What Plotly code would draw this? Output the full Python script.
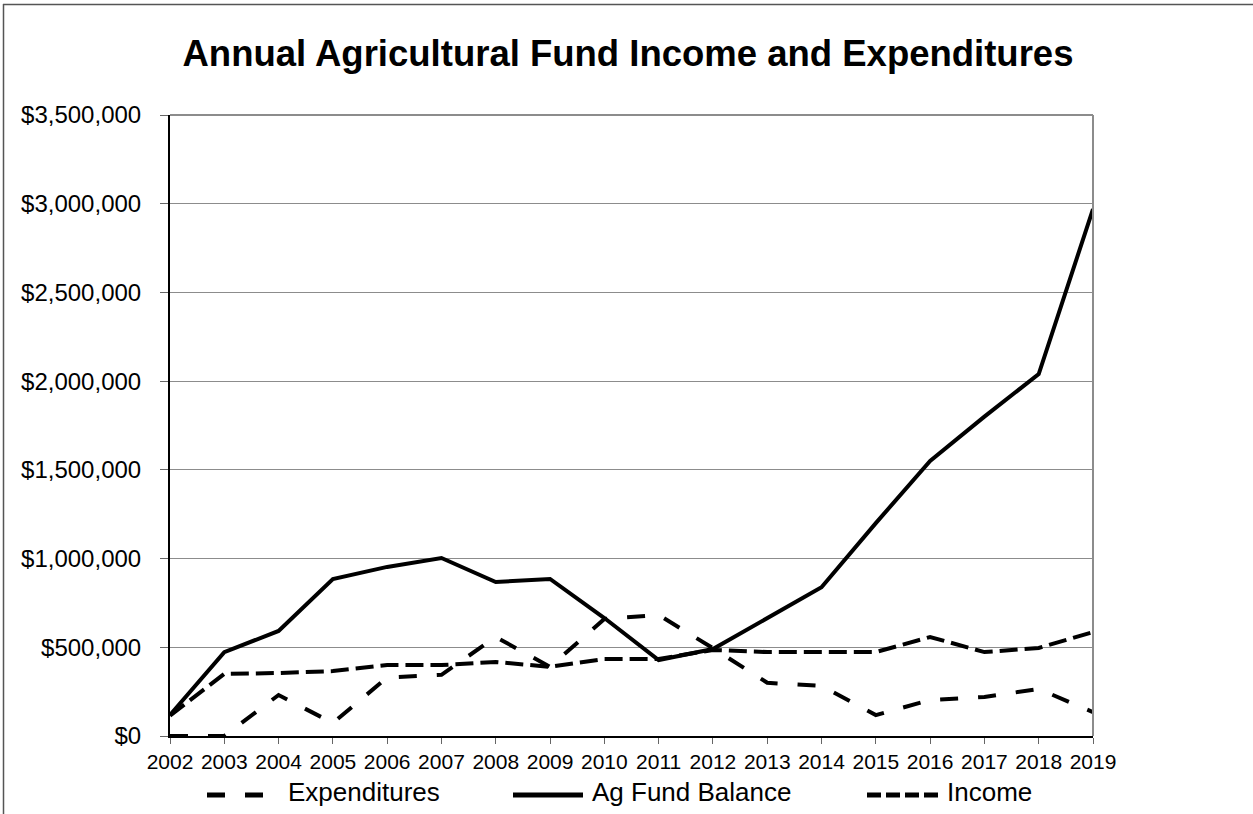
import plotly.graph_objects as go

years = list(range(2002, 2020))
expenditures = [0, 0, 231000, 73000, 330000, 345000, 558000, 390000, 660000, 682000,
                495000, 300000, 282000, 118000, 203000, 220000, 265000, 135000]
ag_fund_balance = [118000, 473000, 592000, 885000, 953000, 1003000, 868000, 885000, 665000, 428000,
                   490000, 662000, 838000, 1200000, 1550000, 1800000, 2040000, 2970000]
income = [115000, 350000, 355000, 366000, 400000, 400000, 417000, 390000, 434000, 434000,
          485000, 473000, 473000, 473000, 558000, 473000, 496000, 586000]
y_ticks = [0, 500000, 1000000, 1500000, 2000000, 2500000, 3000000, 3500000]
y_tick_labels = ["$0", "$500,000", "$1,000,000", "$1,500,000", "$2,000,000",
                 "$2,500,000", "$3,000,000", "$3,500,000"]
series_names = ["Expenditures", "Ag Fund Balance", "Income"]
title_text = "Annual Agricultural Fund Income and Expenditures"

FONT = "Liberation Sans, Arial, sans-serif"
L, R, T, B = 170, 160, 115, 78
W, H = 1253, 814
pw, ph = W - L - R, H - T - B

EXP_DASH = "18px,20px"
INC_DASH = "18px,7px"

fig = go.Figure()
fig.add_trace(go.Scatter(x=years, y=expenditures, mode="lines", name=series_names[0],
                         line=dict(color="black", width=4, dash=EXP_DASH), showlegend=False))
fig.add_trace(go.Scatter(x=years, y=ag_fund_balance, mode="lines", name=series_names[1],
                         line=dict(color="black", width=4), showlegend=False))
fig.add_trace(go.Scatter(x=years, y=income, mode="lines", name=series_names[2],
                         line=dict(color="black", width=4, dash=INC_DASH), showlegend=False))


def px_x(p):
    return (p - L) / pw


def px_y(p):
    return (H - B - p) / ph


shapes = [
    # plot area right/top border (grey)
    dict(type="line", xref="x domain", yref="y domain", x0=1, x1=1, y0=0, y1=1,
         line=dict(color="#8c8c8c", width=2)),
    dict(type="line", xref="x domain", yref="y domain", x0=0, x1=1, y0=1, y1=1,
         line=dict(color="#8c8c8c", width=2)),
    # outer figure frame
    dict(type="line", xref="paper", yref="paper", x0=px_x(3.5), x1=px_x(3.5), y0=px_y(4), y1=px_y(830),
         line=dict(color="#555555", width=1.5)),
    dict(type="line", xref="paper", yref="paper", x0=px_x(3), x1=px_x(1260), y0=px_y(4.5), y1=px_y(4.5),
         line=dict(color="#555555", width=1.5)),
]

# manual legend (symbol lines + labels)
legend_items = [
    (series_names[0], 207, 277, "18px,20px", 286),
    (series_names[1], 513, 583, "solid", 590),
    (series_names[2], 867, 938, "14px,5px", 945),
]
annotations = []
for name, x0, x1, dash, tx in legend_items:
    shapes.append(dict(type="line", xref="paper", yref="paper",
                       x0=px_x(x0), x1=px_x(x1), y0=px_y(795), y1=px_y(795),
                       line=dict(color="black", width=5, dash=dash)))
    annotations.append(dict(text=name, xref="paper", yref="paper", x=px_x(tx), y=px_y(792),
                            xanchor="left", yanchor="middle", showarrow=False,
                            font=dict(size=26, family=FONT, color="black")))

fig.update_layout(
    width=W, height=H,
    margin=dict(l=L, r=R, t=T, b=B, autoexpand=False),
    paper_bgcolor="white", plot_bgcolor="white",
    font=dict(family=FONT, color="black", size=21),
    title=dict(text="<b>" + title_text + "</b>", xref="container", x=628 / W, xanchor="center",
               yref="container", y=1 - 53 / H, yanchor="middle", font=dict(size=36.5, family=FONT)),
    showlegend=False,
    shapes=shapes,
    annotations=annotations,
    xaxis=dict(range=[2002, 2019], tickvals=years, ticktext=[str(y) for y in years],
               showgrid=False, zeroline=False, showline=True, linecolor="black", linewidth=2,
               ticks="outside", ticklen=6, tickcolor="#666", tickwidth=1,
               tickfont=dict(size=21, family=FONT)),
    yaxis=dict(range=[0, 3500000], tickvals=y_ticks, ticktext=y_tick_labels,
               showgrid=True, gridcolor="#8c8c8c", gridwidth=1, zeroline=False,
               showline=True, linecolor="black", linewidth=2,
               ticks="outside", ticklen=8, tickcolor="#666", tickwidth=1,
               ticklabelstandoff=14,
               tickfont=dict(size=24, family=FONT)),
)

fig.write_html("out.html", config={"displayModeBar": False},
               post_script="document.body.style.margin='0';")
